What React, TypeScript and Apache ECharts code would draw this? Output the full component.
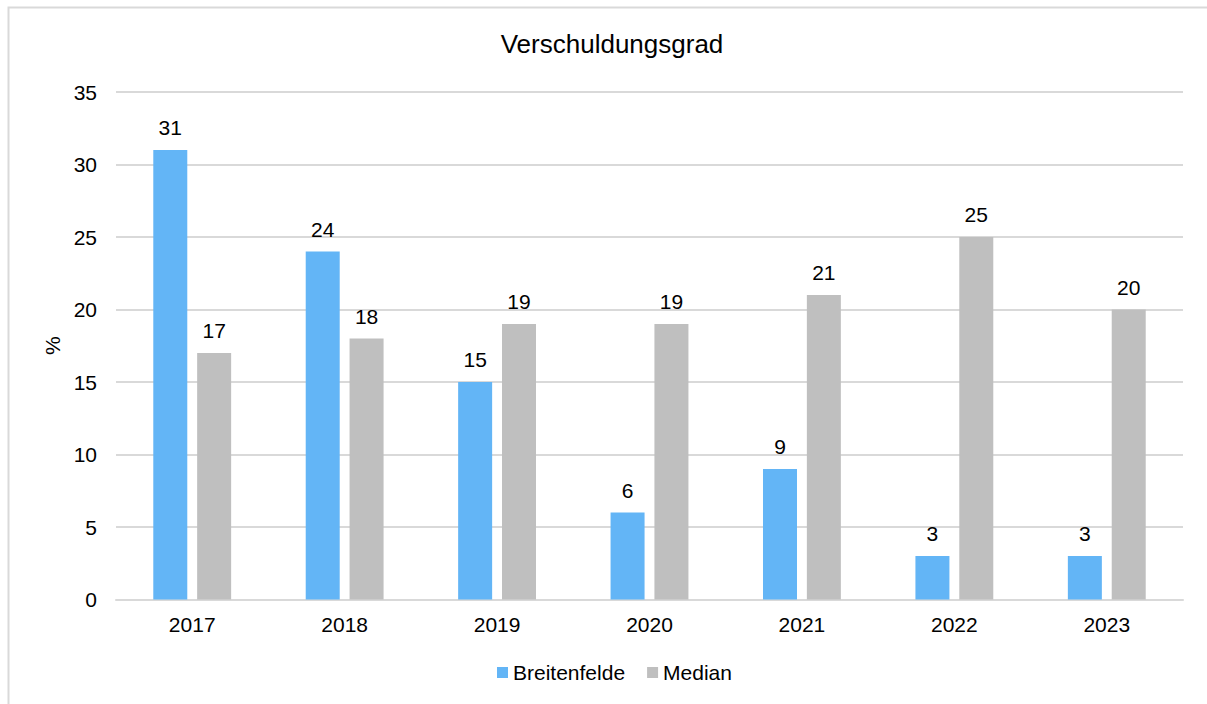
import React, { useEffect, useRef } from "react";
import * as echarts from "echarts";

const years = ["2017", "2018", "2019", "2020", "2021", "2022", "2023"];
const breitenfelde = [31, 24, 15, 6, 9, 3, 3];
const median = [17, 18, 19, 19, 21, 25, 20];
const yTicks = { min: 0, max: 35, interval: 5 };

export default function App() {
  const ref = useRef<HTMLDivElement>(null);
  useEffect(() => {
    const chart = echarts.init(ref.current!, null, { renderer: "svg" });
    const font = "Liberation Sans, Arial, sans-serif";
    const fs = 21;
    chart.setOption({
      animation: false,
      backgroundColor: "#ffffff",
      textStyle: { fontFamily: font },
      graphic: [
        {
          type: "rect",
          shape: { x: 8.5, y: 7.5, width: 1400, height: 900 },
          style: { fill: "none", stroke: "#d9d9d9", lineWidth: 2 },
          silent: true,
        },
      ],
      title: {
        text: "Verschuldungsgrad",
        left: 607,
        textAlign: "center",
        top: 26,
        textStyle: { fontFamily: font, fontSize: 26, fontWeight: "normal", color: "#000" },
      },
      legend: {
        data: ["Breitenfelde", "Median"],
        left: 497,
        top: 662,
        padding: 0,
        itemWidth: 11,
        itemHeight: 11,
        itemGap: 22,
        icon: "rect",
        textStyle: { fontFamily: font, fontSize: fs, color: "#000" },
      },
      grid: { left: 116, right: 24, top: 92, bottom: 104.5, containLabel: false },
      xAxis: {
        type: "category",
        data: years,
        axisLine: { lineStyle: { color: "#d9d9d9", width: 2 } },
        axisTick: { show: false },
        axisLabel: { color: "#000", fontSize: fs, fontFamily: font, margin: 14 },
      },
      yAxis: {
        type: "value",
        min: yTicks.min,
        max: yTicks.max,
        interval: yTicks.interval,
        name: "%",
        nameLocation: "middle",
        nameGap: 51,
        nameRotate: 90,
        nameTextStyle: { color: "#000", fontSize: fs, fontFamily: font },
        axisLine: { show: false },
        axisTick: { show: false },
        splitLine: { lineStyle: { color: "#d9d9d9", width: 2 } },
        axisLabel: { color: "#000", fontSize: fs, fontFamily: font, margin: 19 },
      },
      series: [
        {
          name: "Breitenfelde",
          type: "bar",
          data: breitenfelde,
          barWidth: 34,
          barGap: "29%",
          itemStyle: { color: "#63b5f6" },
          label: { show: true, position: "top", distance: 12, color: "#000", fontSize: fs, fontFamily: font },
        },
        {
          name: "Median",
          type: "bar",
          data: median,
          barWidth: 34,
          itemStyle: { color: "#bfbfbf" },
          label: { show: true, position: "top", distance: 12, color: "#000", fontSize: fs, fontFamily: font },
        },
      ],
    });
    return () => chart.dispose();
  }, []);
  return (
    <div
      ref={ref}
      style={{ position: "absolute", left: 0, top: 0, width: 1207, height: 704 }}
    />
  );
}
